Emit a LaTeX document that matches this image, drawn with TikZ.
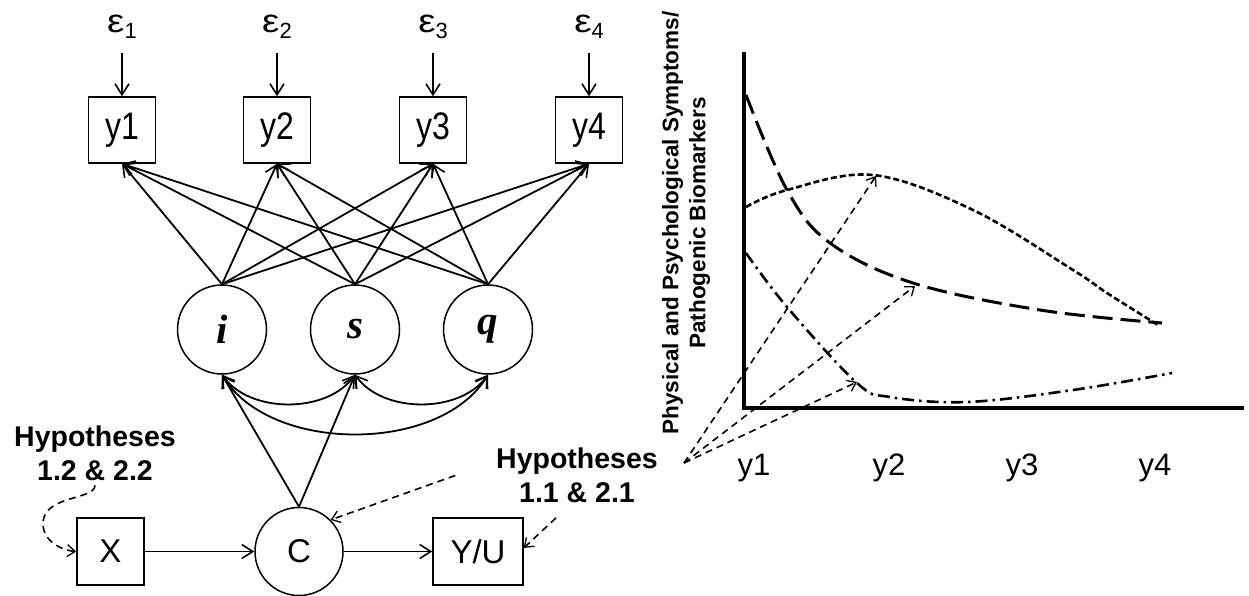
\documentclass[tikz,border=0pt]{standalone}
\usepackage{fontspec}
\setmainfont{Liberation Sans}
\newfontfamily\serifbi{Liberation Serif}
\usetikzlibrary{arrows.meta}
\begin{document}
\begin{tikzpicture}[x=1pt,y=-1pt,
  line width=1.8pt,
  tip/.style={-{Straight Barb[length=11pt,width=14pt,line width=1.6pt]}},
  tipboth/.style={{Straight Barb[length=11pt,width=14pt,line width=1.6pt]}-{Straight Barb[length=11pt,width=14pt,line width=1.6pt]}},
  tipsm/.style={-{Straight Barb[length=8pt,width=12pt,line width=1.3pt]}},
  box/.style={draw,line width=1.5pt,minimum width=67pt,minimum height=66pt,inner sep=0pt},
  lat/.style={draw,circle,line width=1.5pt,minimum size=89pt,inner sep=0pt},
  lab/.style={font=\fontsize{33}{38}\selectfont},
  ylab/.style={font=\fontsize{32}{38}\selectfont},
  txt/.style={inner sep=0pt},
  hyp/.style={font=\fontsize{28.5}{34}\selectfont\bfseries,align=center,inner sep=0pt},
  dsh/.style={dash pattern=on 7pt off 5pt,line width=1.6pt},
  curveA/.style={line width=3pt,dash pattern=on 20pt off 8pt},
  curveB/.style={line width=2.6pt,dash pattern=on 6pt off 3pt},
  curveC/.style={line width=2.6pt,dash pattern=on 12pt off 5pt on 2.5pt off 5pt},
  axis/.style={line width=3.2pt},
  lv/.style={font=\serifbi\bfseries\itshape\fontsize{41}{41}\selectfont}
]
\useasboundingbox (0,0) rectangle (1249,595);

% indicators
\foreach \n/\x in {1/122,2/277,3/433,4/589}{
  \node[box,ylab] (y\n) at (\x,130) {\scalebox{1}[1.2]{y\n}};
  \node[lab,txt,anchor=base,font=\fontsize{31}{36}\selectfont] (e\n) at (\x,32) {\scalebox{1.25}[1.05]{ε}\raisebox{-6pt}{\fontsize{22}{22}\selectfont\n}};
  \draw[tip] ([yshift=-14pt]e\n.south -| y\n.north) -- (y\n.north);
}

% latent growth factors
\node[lat,lv] (i) at (222,329.5) {i};
\node[lat,lv] (s) at (355,329.5) {s};
\node[lat,lv] (q) at (488,329.5) {q};

\foreach \c in {i,s,q}{
  \foreach \t in {y1,y2,y3,y4}{
    \draw[tip] (\c.north) -- (\t.south);
  }
}

% covariances
\draw[tipboth] (i.south) .. controls +(28,39) and +(-28,39) .. (s.south);
\draw[tipboth] (s.south) .. controls +(28,39) and +(-28,39) .. (q.south);
\draw[tipboth] (i.south) .. controls +(48,79) and +(-48,79) .. (q.south);

% bottom path model
\node[box,lab,minimum height=67pt] (X) at (110.5,551.5) {X};
\node[lat,lab,minimum size=88pt] (C) at (299,551.5) {C};
\node[box,lab,minimum width=90pt,minimum height=67pt] (YU) at (478,551.5) {Y/U};
\draw[tip] (X) -- (C);
\draw[tip] (C) -- (YU);
\draw[tip] (C.north) -- (i.south);
\draw[tip] (C.north) -- (s.south);

% hypotheses
\node[hyp] (h1) at (95,453) {Hypotheses\\1.2 \& 2.2};
\node[hyp] (h2) at (577,475.5) {Hypotheses\\1.1 \& 2.1};

\draw[dsh,tipsm] ([yshift=-4pt]h1.south) .. controls (95,500) and (45,495) .. (43,522) .. controls (42,540) and (60,550) .. (X.west);
\draw[dsh,tipsm] ([xshift=-40pt]h2.west) -- (C.45);
\draw[dsh,tipsm] ([xshift=-21pt,yshift=-14pt]h2.south) -- ([yshift=3.5pt]YU.east);

% chart
\draw[axis] (744,52) -- (744,408) -- (1244,408);
\draw[curveA] plot[smooth,tension=0.6] coordinates {(746,95) (787,190) (830,243) (913,283) (1040,310) (1162,323)};
\draw[curveB] plot[smooth,tension=0.6] coordinates {(746,207) (787,190) (873,175) (973,210) (1073,270) (1107,293) (1158,325)};
\draw[curveC] plot[smooth,tension=0.6] coordinates {(746,253) (787,307) (857,383) (890,397) (967,402) (1073,390) (1172,373)};

\node[font=\fontsize{22.5}{27}\selectfont\bfseries,align=center,rotate=90,inner sep=0pt] (axlab) at (686,223) {Physical and Psychological Symptoms/\\Pathogenic Biomarkers};

\foreach \n/\x in {1/754,2/889,3/1022,4/1155}{
  \node[txt,anchor=base,font=\fontsize{31}{36}\selectfont] (x\n) at (\x,475) {y\n};
}

\coordinate (o) at (684,463);
\coordinate (t1) at (876,176);
\coordinate (t2) at (915,286);
\coordinate (t3) at (857,382);
\draw[dsh,tipsm] (o) -- (t1);
\draw[dsh,tipsm] (o) -- (t2);
\draw[dsh,tipsm] (o) -- (t3);
\end{tikzpicture}
\end{document}
